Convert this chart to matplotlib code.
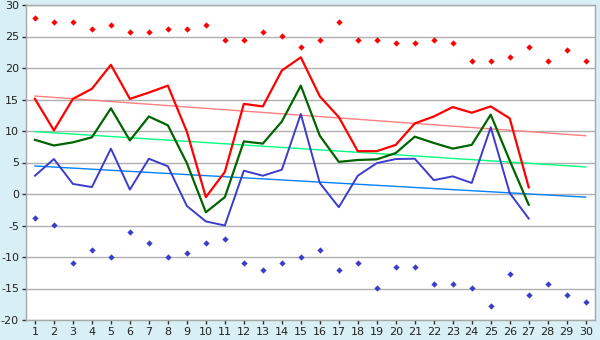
import matplotlib
matplotlib.use("Agg")
import matplotlib.pyplot as plt
import numpy as np

days = list(range(1, 31))
max_days = list(range(1, 28))
max_temp = [15.1, 10.1, 15.1, 16.7, 20.5, 15.1, 16.1, 17.2, 9.9, -0.5, 3.5, 14.3, 13.9,
            19.6, 21.7, 15.5, 12.2, 6.8, 6.8, 7.8, 11.2, 12.3, 13.8, 12.9, 13.9, 12.0, 1.05]
mean_temp = [8.6, 7.7, 8.2, 9.0, 13.6, 8.5, 12.3, 10.9, 4.9, -2.9, -0.5, 8.35, 8.0,
             11.5, 17.2, 9.25, 5.1, 5.4, 5.5, 6.5, 9.1, 8.1, 7.2, 7.8, 12.6, 5.3, -1.7]
min_temp = [2.9, 5.55, 1.6, 1.1, 7.2, 0.7, 5.6, 4.4, -1.9, -4.35, -5.0, 3.7, 2.9,
            3.85, 12.7, 1.75, -2.1, 2.9, 4.9, 5.55, 5.6, 2.2, 2.8, 1.75, 10.6, 0.15, -3.9]
record_max = [27.9, 27.3, 27.3, 26.2, 26.8, 25.7, 25.7, 26.2, 26.2, 26.8, 24.4, 24.4, 25.7,
              25.1, 23.3, 24.4, 27.3, 24.4, 24.4, 24.0, 24.0, 24.4, 24.0, 21.1, 21.1, 21.7,
              23.3, 21.1, 22.9, 21.1]
record_min = [-3.8, -4.9, -11.0, -8.9, -10.0, -6.0, -7.8, -10.0, -9.4, -7.8, -7.1, -11.0,
              -12.1, -11.0, -10.0, -8.9, -12.1, -11.0, -14.9, -11.6, -11.6, -14.3, -14.3,
              -14.9, -17.8, -12.7, -16.0, -14.3, -16.0, -17.1]
# trend lines: value at day 1 and at day 30
trend_max = [15.55, 9.25]
trend_mean = [9.9, 4.3]
trend_min = [4.45, -0.5]
y_ticks = list(range(-20, 31, 5))

fig = plt.figure(figsize=(6, 3.4), dpi=100)
fig.patch.set_facecolor("#d9eff6")
ax = fig.add_axes([26/600, 1-320/340, 569/600, 315/340])
ax.set_facecolor("white")

for y in y_ticks:
    ax.axhline(y, color="#b0b0b0", lw=1.0, zorder=1)

ends = [days[0], days[-1]]
ax.plot(ends, trend_max, color="#ff8080", lw=1.0, zorder=2)
ax.plot(ends, trend_mean, color="#00ff80", lw=1.0, zorder=2)
ax.plot(ends, trend_min, color="#0080ff", lw=1.0, zorder=2)

ax.plot(max_days, max_temp, color="#ff0000", lw=1.6, zorder=3)
ax.plot(max_days, mean_temp, color="#006400", lw=1.6, zorder=3)
ax.plot(max_days, min_temp, color="#3c3ccc", lw=1.4, zorder=3)

ax.plot(days, record_max, linestyle="none", marker="D", markersize=3.2,
        color="#ff0000", markeredgewidth=0, zorder=4)
ax.plot(days, record_min, linestyle="none", marker="D", markersize=3.2,
        color="#3c3ccc", markeredgewidth=0, zorder=4)

ax.set_xlim(0.53, 30.49)
ax.set_ylim(-20, 30)
ax.set_xticks(days)
ax.set_xticklabels([str(d) for d in days])
ax.set_yticks(y_ticks)
ax.set_yticklabels([str(y) for y in y_ticks])
ax.tick_params(axis="both", labelsize=8, colors="#303030", labelcolor="#222222",
               length=3, width=1, pad=2)
for s in ax.spines.values():
    s.set_color("#a8a8a8")
    s.set_linewidth(1.0)

fig.savefig("out.png", dpi=100, facecolor=fig.get_facecolor())
